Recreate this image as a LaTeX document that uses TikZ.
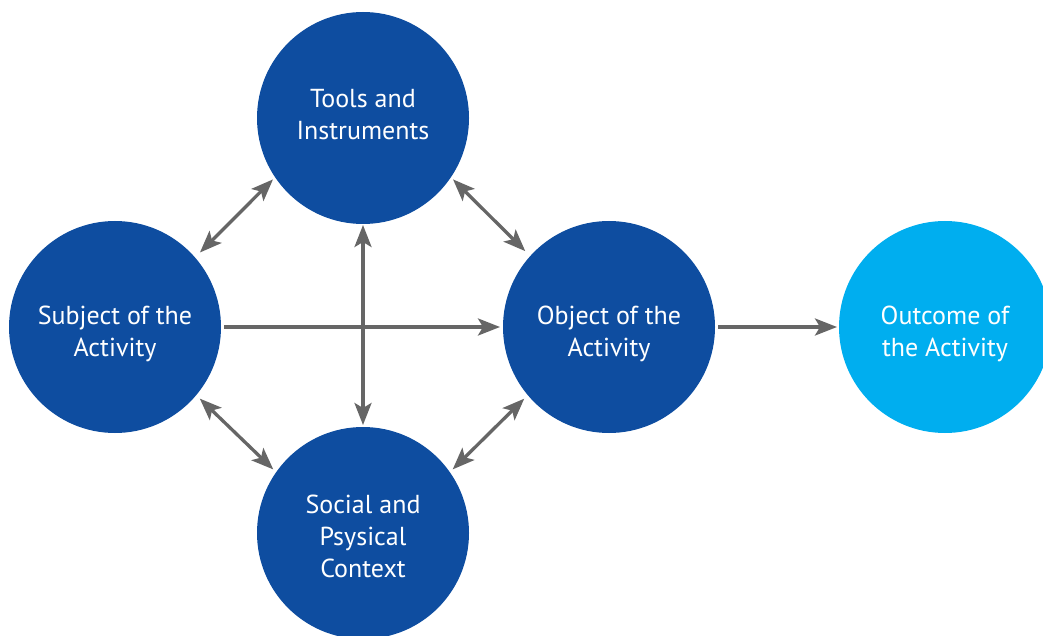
\documentclass[tikz,border=0pt]{standalone}
\usepackage{fontspec}
\setmainfont{PT Sans}
\usetikzlibrary{arrows.meta}
\definecolor{darkblue}{RGB}{14,77,160}
\definecolor{lightblue}{RGB}{0,174,239}
\definecolor{arrowgray}{RGB}{102,102,102}
\begin{document}
\begin{tikzpicture}[x=1pt,y=-1pt,
  bubble/.style={circle, fill=darkblue, minimum size=212pt, inner sep=0pt, outer sep=0pt},
  outbubble/.style={bubble, fill=lightblue},
  caption/.style={text=white, align=center, font=\fontsize{26}{32}\selectfont, inner sep=0pt},
  tip/.tip={Stealth[length=22pt,width=17pt,inset=5pt]},
  link/.style={draw=arrowgray, line width=3.3pt, -tip},
  dlink/.style={draw=arrowgray, line width=3.3pt, tip-tip},
]
\useasboundingbox (0,0) rectangle (1043,636);
\node[bubble, label={[caption, yshift=3pt]center:{Tools and\\Instruments}}] (tools) at (363,118) {};
\node[bubble, label={[caption, yshift=-7pt]center:{Subject of the\\Activity}}] (subj) at (115,327) {};
\node[bubble, label={[caption, yshift=-7pt]center:{Object of the\\Activity}}] (obj) at (609,327) {};
\node[bubble, label={[caption, yshift=-3pt]center:{Social and\\Psysical\\Context}}] (soc) at (363,533) {};
\node[outbubble, label={[caption, yshift=-7pt]center:{Outcome of\\the Activity}}] (out) at (945,327) {};
\draw[link, shorten <=3pt, shorten >=3pt] (subj) -- (obj);
\draw[link, shorten <=3pt, shorten >=2pt] (obj) -- (out);
\draw[dlink, shorten <=1pt, shorten >=2pt] (tools) -- (soc);
\draw[dlink, shorten <=7pt, shorten >=3pt] (subj.41.5) -- (tools.214);
\draw[dlink, shorten <=3pt, shorten >=7pt] (tools.326) -- (obj.138);
\draw[dlink, shorten <=5pt, shorten >=4pt] (subj.320) -- (soc.145);
\draw[dlink, shorten <=4pt, shorten >=5pt] (soc.35) -- (obj.220);
\end{tikzpicture}
\end{document}
